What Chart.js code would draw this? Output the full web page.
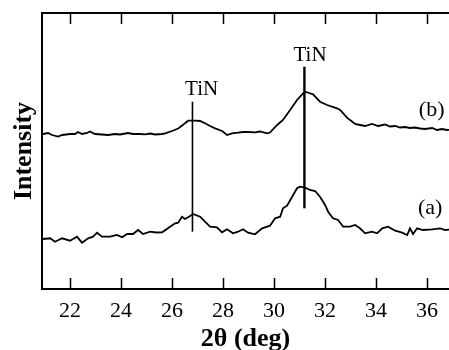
<!DOCTYPE html>
<html>
<head>
<meta charset="utf-8">
<script src="https://cdn.jsdelivr.net/npm/chart.js@4.4.1/dist/chart.umd.min.js"></script>
<style>
  html, body { margin: 0; padding: 0; background: #fff; overflow: hidden; }
  #wrap { width: 449px; height: 350px; position: relative; }
</style>
</head>
<body>
<div id="wrap"><canvas id="xrd"></canvas></div>
<script>
// 2-theta values and intensities (arbitrary units)
const bTheta = [20.94, 21.14, 21.29, 21.53, 21.69, 22.00, 22.20, 22.31, 22.47, 22.67, 22.78, 22.98, 23.25, 23.49, 23.76, 23.96,
  24.27, 24.47, 24.75, 24.94, 25.14, 25.33, 25.61, 25.73, 26.00, 26.24, 26.51, 26.63, 26.90, 27.10, 27.29, 27.49,
  27.69, 27.96, 28.16, 28.35, 28.59, 28.78, 28.98, 29.25, 29.45, 29.73, 29.84, 30.12, 30.35, 30.63, 30.90, 31.14,
  31.22, 31.37, 31.53, 31.80, 32.08, 32.47, 32.59, 32.86, 32.98, 33.18, 33.37, 33.57, 33.84, 34.08, 34.35, 34.55,
  34.75, 34.94, 35.14, 35.33, 35.53, 35.73, 35.92, 36.20, 36.39, 36.59, 36.78, 36.98];
const bIntensity = [155, 156, 154, 152.5, 154, 155, 155, 157, 155, 156, 157.5, 155, 154.5, 154, 155, 154.5,
  156, 155, 155, 154.7, 155.5, 154.5, 155, 155.7, 158, 160.5, 165.7, 168.3, 168.3, 168, 165.7, 163,
  160.7, 158, 154, 155.7, 156.3, 157, 157, 156.7, 157.5, 155.7, 156.5, 164, 169, 179, 189, 195.7,
  197.3, 196, 194.7, 187.3, 184, 180.7, 179, 171.3, 169, 165, 164, 163, 165, 163, 164.5, 162.5,
  163, 161.5, 162, 161, 161.5, 160.5, 160, 161, 159, 160, 159, 159.5];

const aTheta = [20.94, 21.22, 21.41, 21.69, 22.00, 22.27, 22.47, 22.71, 22.90, 23.06, 23.25, 23.57, 23.84, 24.04, 24.24, 24.47,
  24.67, 24.86, 25.14, 25.37, 25.61, 25.92, 26.12, 26.24, 26.39, 26.51, 26.71, 26.82, 27.10, 27.29, 27.49, 27.76,
  27.96, 28.16, 28.39, 28.59, 28.78, 28.98, 29.25, 29.37, 29.53, 29.84, 30.04, 30.24, 30.35, 30.51, 30.71, 30.90,
  31.02, 31.22, 31.41, 31.61, 31.80, 32.00, 32.12, 32.31, 32.51, 32.71, 32.98, 33.18, 33.37, 33.57, 33.84, 34.04,
  34.24, 34.47, 34.75, 35.02, 35.22, 35.33, 35.45, 35.61, 35.84, 36.20, 36.51, 36.71, 36.98];
const aIntensity = [50, 50.7, 47.3, 50.7, 48.3, 52.3, 46.3, 50.7, 52.3, 56.3, 52.3, 52.3, 54, 51.7, 55, 55,
  59, 55, 57.3, 56.5, 56.7, 62.3, 65.7, 66.3, 72.3, 70, 73, 75, 72.3, 67.3, 62.3, 61.7,
  56.7, 59.7, 55.7, 57.3, 59.7, 56.3, 54.7, 57.3, 60.7, 63.3, 70.7, 72.3, 80.7, 83.3, 92.3, 100.7,
  102.3, 101.3, 99, 98, 92.3, 84, 77.3, 70.7, 69, 62.3, 62.3, 64, 60.7, 55.7, 57.3, 55.7,
  60.7, 62.3, 58.3, 56.3, 54, 60.7, 55, 60.7, 59, 59.7, 60.7, 59, 59.5];

// TiN reference lines: position and vertical extent
const tinTheta = [26.80, 31.19];
const tinFrom = [57.3, 80.7];
const tinTo = [187.3, 222.3];

const xTicks = [22, 24, 26, 28, 30, 32, 34, 36];
const peakLabels = ['TiN', 'TiN'];
const curveLabels = ['(a)', '(b)'];

const serif = '"Liberation Serif", "Times New Roman", serif';

function toPoints(xs, ys) {
    return xs.map((x, i) => ({ x: x, y: ys[i] }));
}

const datasets = [
    { data: toPoints(aTheta, aIntensity), borderColor: '#000', borderWidth: 1.8, pointRadius: 0, tension: 0 },
    { data: toPoints(bTheta, bIntensity), borderColor: '#000', borderWidth: 1.8, pointRadius: 0, tension: 0 },
    { data: [{ x: tinTheta[0], y: tinFrom[0] }, { x: tinTheta[0], y: tinTo[0] }], borderColor: '#000', borderWidth: 1.6, pointRadius: 0 },
    { data: [{ x: tinTheta[1], y: tinFrom[1] }, { x: tinTheta[1], y: tinTo[1] }], borderColor: '#000', borderWidth: 2.4, pointRadius: 0 }
];

// frame on left/top/bottom plus inward ticks at top and bottom
const framePlugin = {
    id: 'frame',
    afterDraw(chart) {
        const ctx = chart.ctx;
        const area = chart.chartArea;
        const xs = chart.scales.x;
        ctx.save();
        ctx.strokeStyle = '#000';
        ctx.lineWidth = 2;
        ctx.beginPath();
        ctx.moveTo(chart.width + 2, area.top);
        ctx.lineTo(area.left, area.top);
        ctx.lineTo(area.left, area.bottom);
        ctx.lineTo(chart.width + 2, area.bottom);
        ctx.stroke();
        ctx.lineWidth = 1.5;
        xTicks.forEach(t => {
            const px = Math.round(xs.getPixelForValue(t)) + 0.5;
            ctx.beginPath();
            ctx.moveTo(px, area.bottom);
            ctx.lineTo(px, area.bottom - 11);
            ctx.moveTo(px, area.top);
            ctx.lineTo(px, area.top + 11);
            ctx.stroke();
        });
        ctx.restore();
    }
};

// peak and curve labels, anchored in data coordinates
const labelPlugin = {
    id: 'labels',
    afterDatasetsDraw(chart) {
        const ctx = chart.ctx;
        const xs = chart.scales.x, ys = chart.scales.y;
        const spots = [
            { text: peakLabels[0], x: 27.16, y: 199.7, size: 21 },
            { text: peakLabels[1], x: 31.41, y: 234, size: 21 },
            { text: curveLabels[0], x: 36.12, y: 80.7, size: 22 },
            { text: curveLabels[1], x: 36.18, y: 179, size: 22 }
        ];
        ctx.save();
        ctx.fillStyle = '#000';
        ctx.textAlign = 'center';
        ctx.textBaseline = 'middle';
        spots.forEach(s => {
            ctx.font = s.size + 'px ' + serif;
            ctx.fillText(s.text, xs.getPixelForValue(s.x), ys.getPixelForValue(s.y));
        });
        ctx.restore();
    }
};

new Chart(document.getElementById('xrd'), {
    type: 'line',
    data: { datasets: datasets },
    options: {
        responsive: true,
        maintainAspectRatio: false,
        animation: false,
        layout: { padding: { top: 13, right: 0, bottom: 0, left: 0 } },
        plugins: { legend: { display: false }, tooltip: { enabled: false } },
        scales: {
            x: {
                type: 'linear',
                min: 20.9,
                max: 36.86,
                afterFit: s => { s.height = 61; },
                afterBuildTicks: s => { s.ticks = xTicks.map(v => ({ value: v })); },
                grid: { display: false, drawTicks: false },
                border: { display: false },
                ticks: { padding: 9, maxRotation: 0, autoSkip: false, color: '#000', font: { family: serif, size: 22 } },
                title: { display: true, text: '2θ (deg)', color: '#000', padding: { top: 0, bottom: -2 },
                    font: { family: serif, size: 26, weight: 'bold', lineHeight: 1 } }
            },
            y: {
                min: 0,
                max: 276,
                afterFit: s => { s.width = 42; },
                grid: { display: false, drawTicks: false },
                border: { display: false },
                ticks: { display: false },
                title: { display: true, text: 'Intensity', color: '#000', padding: { top: 11, bottom: 0 },
                    font: { family: serif, size: 26, weight: 'bold', lineHeight: 1 } }
            }
        }
    },
    plugins: [framePlugin, labelPlugin]
});
</script>
</body>
</html>
